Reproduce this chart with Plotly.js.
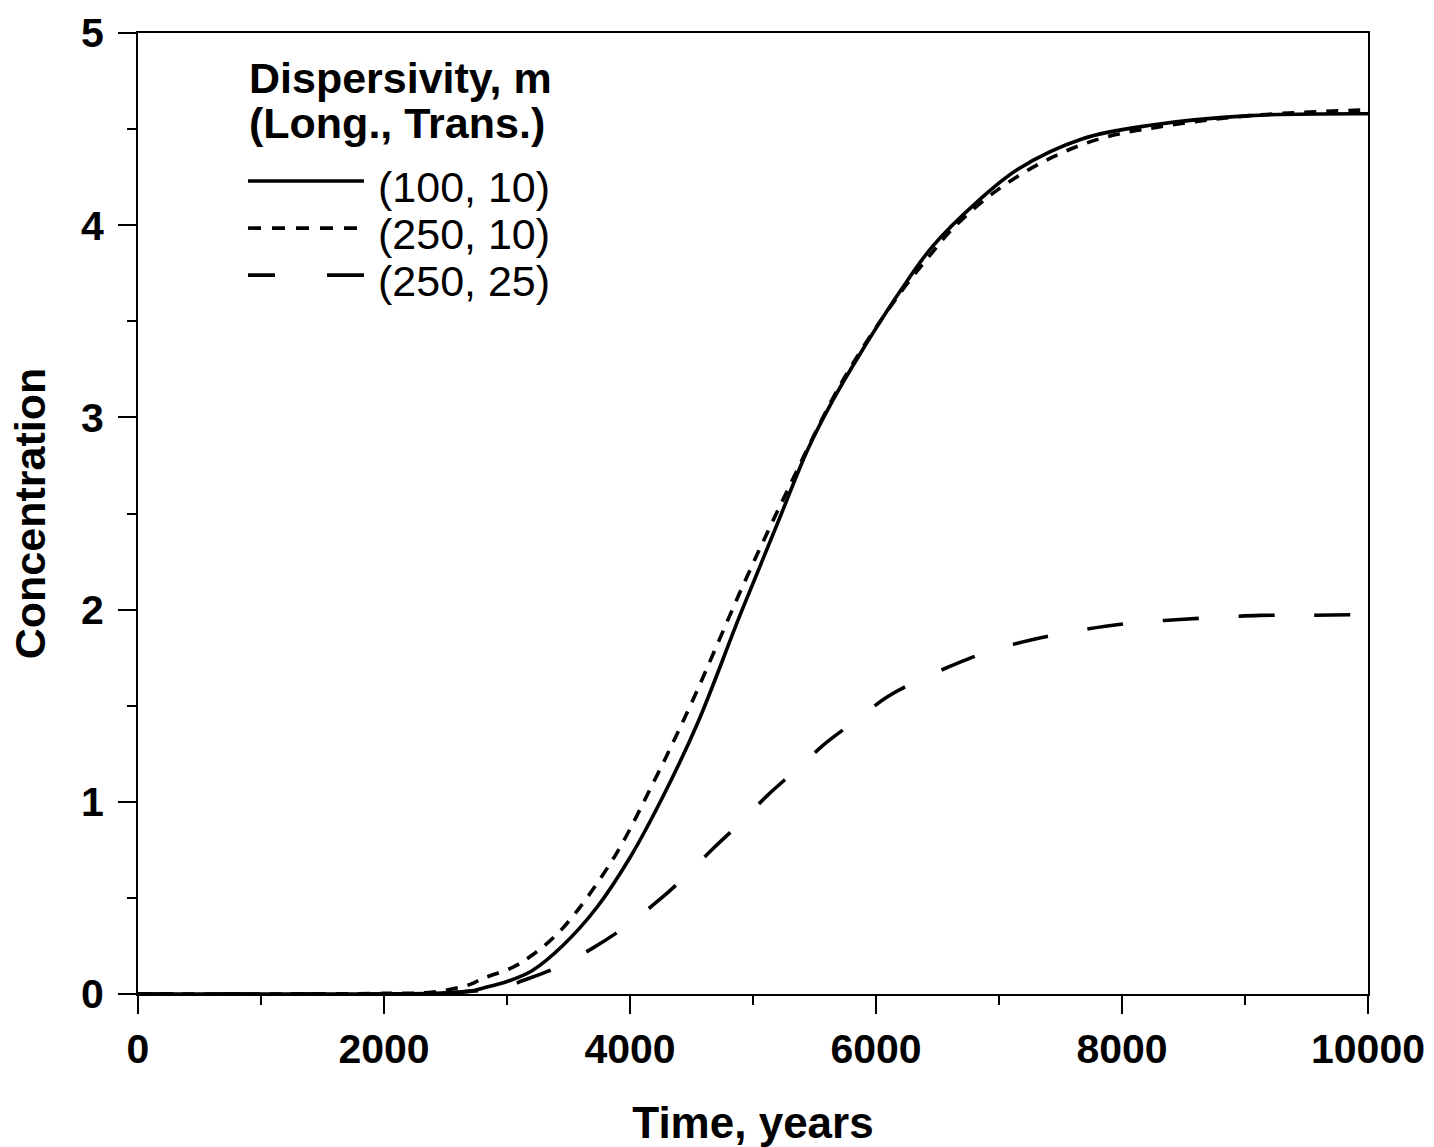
<!DOCTYPE html>
<html>
<head>
<meta charset="utf-8">
<script src="https://cdn.plot.ly/plotly-3.0.1.min.js"></script>
<style>html,body{margin:0;padding:0;background:#fff;}#chart{width:1434px;height:1147px;}</style>
</head>
<body>
<div id="chart"></div>
<script>
// Time, years
const timeA = [0, 1000, 2000, 2400, 2700, 2800, 3000, 3200, 3450, 3730, 4000, 4270, 4550, 4900, 5200, 5450, 5650, 5870, 6200, 6460, 6820, 7150, 7680, 8230, 9040, 10000];
// (100, 10) solid
const concA = [0, 0, 0, 0.003, 0.015, 0.03, 0.065, 0.12, 0.25, 0.45, 0.71, 1.03, 1.41, 1.98, 2.45, 2.84, 3.09, 3.33, 3.66, 3.89, 4.12, 4.29, 4.45, 4.52, 4.57, 4.58];

const timeB = [0, 1000, 2000, 2400, 2700, 2800, 3050, 3200, 3450, 3860, 4190, 4490, 4950, 5280, 5650, 5870, 6200, 6460, 6620, 6980, 7390, 7820, 8290, 9040, 10000];
// (250, 10) short dash
const concB = [0, 0, 0.003, 0.01, 0.05, 0.08, 0.14, 0.20, 0.34, 0.70, 1.10, 1.50, 2.17, 2.62, 3.10, 3.34, 3.65, 3.86, 3.98, 4.18, 4.34, 4.45, 4.51, 4.57, 4.60];

const timeC = [0, 1000, 2000, 2500, 2800, 3000, 3130, 3410, 3700, 3940, 4220, 4430, 4680, 4880, 5120, 5340, 5600, 5830, 6090, 6340, 6660, 6930, 7250, 7550, 7880, 8170, 8500, 8800, 9120, 9420, 10000];
// (250, 25) long dash
const concC = [0, 0, 0, 0.005, 0.02, 0.04, 0.07, 0.14, 0.24, 0.34, 0.48, 0.60, 0.76, 0.88, 1.035, 1.16, 1.31, 1.42, 1.545, 1.63, 1.72, 1.785, 1.84, 1.88, 1.915, 1.935, 1.95, 1.96, 1.97, 1.97, 1.975];

const seriesNames = ["(100, 10)", "(250, 10)", "(250, 25)"];
const legendTitle = ["Dispersivity, m", "(Long., Trans.)"];
const xTickVals = [0, 2000, 4000, 6000, 8000, 10000];
const yTickVals = [0, 1, 2, 3, 4, 5];

const FONT = "Liberation Sans, Arial, Helvetica, sans-serif";
const dashes = ["solid", "12px,10px", "36px,40px"];
const legendDashes = ["solid", "13px,11px", "27px,52px,37px,20px"];

const traces = [
  {x: timeA, y: concA, name: seriesNames[0]},
  {x: timeB, y: concB, name: seriesNames[1]},
  {x: timeC, y: concC, name: seriesNames[2]}
].map((t, i) => Object.assign(t, {
  type: "scatter", mode: "lines", showlegend: false,
  line: {color: "#000", width: 3.6, dash: dashes[i], shape: "spline", smoothing: 1}
}));

// custom legend (paper coordinates)
const annotations = [];
const shapes = [];
const lx0 = 0.0894, lx1 = 0.1837, tx = 0.1935;
annotations.push({xref: "paper", yref: "paper", x: lx0 - 0.001, y: 0.953, xanchor: "left", yanchor: "middle",
  text: "<b>" + legendTitle[0] + "</b>", showarrow: false, font: {family: FONT, size: 43, color: "#000"}});
annotations.push({xref: "paper", yref: "paper", x: lx0 - 0.001, y: 0.906, xanchor: "left", yanchor: "middle",
  text: "<b>" + legendTitle[1] + "</b>", showarrow: false, font: {family: FONT, size: 43, color: "#000"}});
const entryY = [0.840, 0.791, 0.742];
seriesNames.forEach((n, i) => {
  annotations.push({xref: "paper", yref: "paper", x: tx, y: entryY[i], xanchor: "left", yanchor: "middle",
    text: n, showarrow: false, font: {family: FONT, size: 43, color: "#000"}});
  shapes.push({type: "line", xref: "paper", yref: "paper", x0: lx0, x1: lx1, y0: entryY[i] + 0.006, y1: entryY[i] + 0.006,
    line: {color: "#000", width: 3.6, dash: legendDashes[i]}});
});

const layout = {
  width: 1434, height: 1147,
  margin: {l: 138, r: 66, t: 33, b: 153},
  paper_bgcolor: "#fff", plot_bgcolor: "#fff",
  showlegend: false,
  font: {family: FONT, color: "#000"},
  xaxis: {
    range: [0, 10000], tickvals: xTickVals, ticktext: xTickVals.map(String),
    ticks: "outside", ticklen: 18, tickwidth: 2, tickcolor: "#000",
    minor: {dtick: 1000, tick0: 0, ticks: "outside", ticklen: 9, tickwidth: 2, tickcolor: "#000", showgrid: false},
    showline: true, linewidth: 2, linecolor: "#000", mirror: true,
    showgrid: false, zeroline: false, automargin: false,
    tickfont: {family: FONT, size: 41, color: "#000", weight: "bold"},
    title: {text: "<b>Time, years</b>", font: {family: FONT, size: 44, color: "#000"}, standoff: 38}
  },
  yaxis: {
    range: [0, 5], tickvals: yTickVals, ticktext: yTickVals.map(String),
    ticks: "outside", ticklen: 18, tickwidth: 2, tickcolor: "#000",
    ticklabelstandoff: 6,
    minor: {dtick: 0.5, tick0: 0, ticks: "outside", ticklen: 9, tickwidth: 2, tickcolor: "#000", showgrid: false},
    showline: true, linewidth: 2, linecolor: "#000", mirror: true,
    showgrid: false, zeroline: false, automargin: false,
    tickfont: {family: FONT, size: 41, color: "#000", weight: "bold"},
    title: {text: "<b>Concentration</b>", font: {family: FONT, size: 43, color: "#000"}, standoff: 22}
  },
  annotations: annotations,
  shapes: shapes
};

Plotly.newPlot("chart", traces, layout, {displayModeBar: false, staticPlot: true});
</script>
</body>
</html>
